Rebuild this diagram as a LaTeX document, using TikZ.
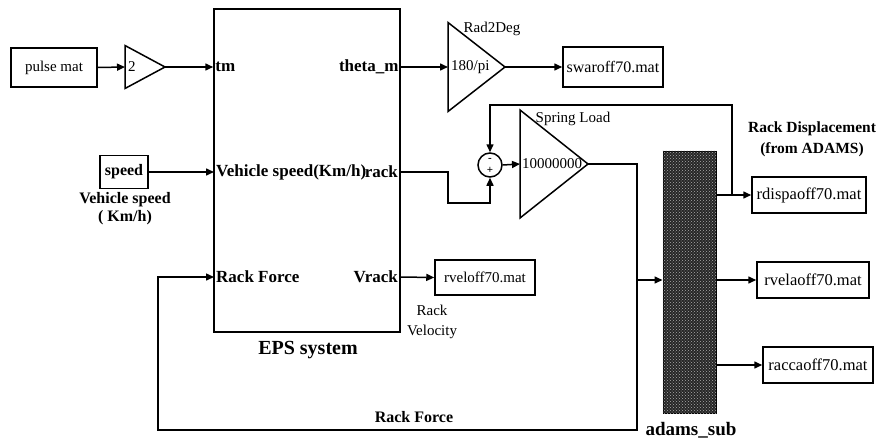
\documentclass[tikz,border=0pt]{standalone}
\usepackage{fontspec}
\setmainfont{Liberation Serif}
\usetikzlibrary{arrows.meta, positioning, shapes.geometric, patterns}

\begin{document}
\begin{tikzpicture}[
            x=1pt, y=-1pt,
            blockbox/.style={
                draw,
                line width=1.5pt,
                inner sep=0pt,
                font=\fontsize{15}{17}\selectfont
            },
            filebox/.style={blockbox, minimum height=36pt, font=\fontsize{16.5}{18}\selectfont},
            gainblock/.style={
                draw,
                line width=1.5pt,
                isosceles triangle,
                isosceles triangle stretches,
                shape border rotate=0,
                inner sep=0pt,
                outer sep=0pt,
                anchor=lower side
            },
            plaintext/.style={inner sep=0pt, font=\fontsize{15}{20}\selectfont, align=center},
            boldtext/.style={inner sep=0pt, font=\fontsize{16}{18}\selectfont\bfseries, align=center},
            portlabel/.style={inner sep=2pt, font=\fontsize{17}{19}\selectfont\bfseries},
            wire/.style={line width=1.5pt},
            arrow/.style={-{Triangle[length=8pt,width=7pt]}, line width=1.5pt}
        ]
            \useasboundingbox (0,0) rectangle (880,439);

            \node[blockbox, minimum width=86pt, minimum height=39pt] (pulse) at (54,67.5) {pulse mat};
            \node[gainblock, minimum width=43pt, minimum height=40pt] (gtwo) at (125,67) {};
            \node[plaintext, anchor=west] (gtwotext) at ([xshift=3pt]gtwo.lower side) {2};

            \node[draw, line width=1.5pt, minimum width=186pt, minimum height=323pt] (eps) at (307,170.5) {};
            \node[portlabel, anchor=west] (tm) at (eps.west |- gtwo.apex) {tm};
            \node[portlabel, anchor=east] (theta) at (eps.east |- gtwo.apex) {theta\_m};
            \node[portlabel, anchor=west] (vspeed) at (214,172) {Vehicle speed(Km/h)};
            \node[portlabel, anchor=east] (rack) at (400,172) {rack};
            \node[portlabel, anchor=west] (rackf) at (214,277) {Rack Force};
            \node[portlabel, anchor=east] (vrack) at (400,277) {Vrack};
            \node[boldtext, font=\fontsize{20}{22}\selectfont\bfseries] (epsname) at (308,350) {EPS system};

            \node[blockbox, minimum width=48pt, minimum height=33pt, font=\fontsize{16}{18}\selectfont\bfseries] (speed) at (124,172) {speed};
            \node[boldtext] (speedlabel) at (125,209) {Vehicle speed\\( Km/h)};

            \node[gainblock, minimum width=89pt, minimum height=57pt] (r2d) at (448,67) {};
            \node[plaintext, anchor=west] (r2dtext) at ([xshift=3pt]r2d.lower side) {180/pi};
            \node[plaintext] (r2dname) at (492,29) {Rad2Deg};
            \node[blockbox, minimum width=100pt, minimum height=40pt, font=\fontsize{16}{18}\selectfont] (swa) at (613,67) {swaroff70.mat};

            \node[draw, circle, line width=1.5pt, minimum size=24pt, inner sep=0pt] (sum) at (490,165) {};
            \node[inner sep=0pt, font=\fontsize{11}{11}\selectfont\bfseries] (summinus) at ([yshift=5pt]sum.center) {-};
            \node[inner sep=0pt, font=\fontsize{11}{11}\selectfont\bfseries] (sumplus) at ([yshift=-5pt]sum.center) {+};

            \node[gainblock, minimum width=108pt, minimum height=68pt] (spring) at (520,164) {};
            \node[plaintext, anchor=west, font=\fontsize{15}{17}\selectfont] (springtext) at ([xshift=2pt]spring.lower side) {10000000};
            \node[plaintext] (springname) at (573,119) {Spring Load};

            \node[draw, line width=1pt, fill=black!85, minimum width=53pt, minimum height=262pt] (adams) at (689.5,282) {};
            \fill[pattern=crosshatch dots, pattern color=gray!65] (adams.south west) rectangle (adams.north east);
            \node[boldtext, font=\fontsize{19}{21}\selectfont\bfseries] (adamsname) at (691,430) {adams\_sub};

            \node[filebox, minimum width=114pt] (rdispa) at (809,195) {rdispaoff70.mat};
            \node[filebox, minimum width=112pt] (rvela) at (813,280) {rvelaoff70.mat};
            \node[filebox, minimum width=110pt] (racca) at (818,365) {raccaoff70.mat};
            \node[boldtext, font=\fontsize{15.5}{21}\selectfont\bfseries] (displabel) at (812,139) {Rack Displacement\\(from ADAMS)};

            \node[blockbox, minimum width=100pt, minimum height=35pt] (rvel) at (485,277.5) {rveloff70.mat};
            \node[plaintext] (rvellabel) at (432,322) {Rack\\Velocity};
            \node[boldtext] (rflabel) at (414,417) {Rack Force};

            \coordinate (split) at (637,280);
            \coordinate (fbcorner) at (158,430);
            \coordinate (tap) at (732,195);

            \draw[arrow] (pulse.east) -- (gtwo.lower side);
            \draw[arrow] (gtwo.apex) -- (tm.west);
            \draw[arrow] (theta.east) -- (r2d.lower side);
            \draw[arrow] (r2d.apex) -- (swa.west);
            \draw[arrow] (speed.east) -- (vspeed.west);
            \draw[arrow] (rack.east) -- ++(48,0) -- ++(0,31) -| (sum.south);
            \draw[arrow] (sum.east) -- (spring.lower side);
            \draw[wire] (spring.apex) -| (split);
            \draw[arrow] (split) -- (split -| adams.west);
            \draw[arrow] (split) |- (fbcorner) |- (rackf.west);
            \draw[arrow] (vrack.east) -- (rvel.west);
            \draw[arrow] (adams.east |- rdispa) -- (rdispa.west);
            \draw[arrow] (adams.east |- rvela) -- (rvela.west);
            \draw[arrow] (adams.east |- racca) -- (racca.west);
            \draw[arrow] (tap) -- ++(0,-90) -| (sum.north);
        \end{tikzpicture}
\end{document}
